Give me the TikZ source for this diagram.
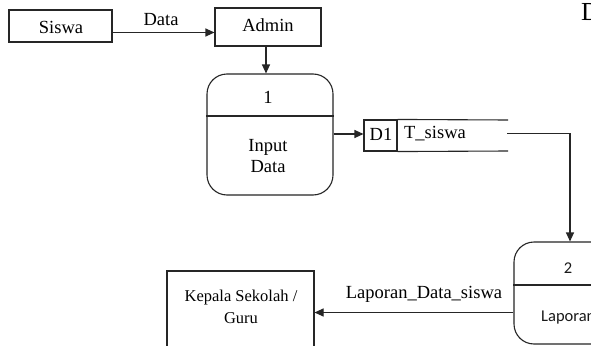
\documentclass[tikz,border=0pt]{standalone}
\usepackage{fontspec}
\setmainfont{Liberation Serif}
\newfontfamily\sansproc{Carlito}
\usetikzlibrary{arrows.meta}
\tikzset{
  ln/.style={draw=black!85, line width=1.1pt},
  arr/.style={ln, -{Triangle[length=9pt,width=8pt]}},
  ent/.style={ln, rectangle, inner sep=0pt, anchor=center},
  proc/.style={ln, rectangle, rounded corners=20pt, inner sep=0pt},
  txt/.style={inner sep=0pt, font=\fontsize{18.5}{22}\selectfont, text=black},
  smalltxt/.style={inner sep=0pt, font=\fontsize{16.5}{21}\selectfont, text=black, align=center},
  sanstxt/.style={inner sep=0pt, font=\sansproc\fontsize{16.5}{20}\selectfont, text=black!90}
}
\begin{document}
\begin{tikzpicture}[x=1pt,y=-1pt]
\useasboundingbox (0,0) rectangle (591,345);
\clip (0,0) rectangle (591,345);
\fill[white] (0,0) rectangle (591,345);

% top-right partial text
\node[inner sep=0pt, anchor=west, font=\fontsize{26}{30}\selectfont] (dtop) at (581,12) {D};

% entities
\node[ent, minimum width=103pt, minimum height=32pt] (siswa) at (60.5,26) {};
\node[txt] (siswatxt) at (61,27) {Siswa};
\node[ent, minimum width=106pt, minimum height=38pt] (admin) at (268,27) {};
\node[txt] (admintxt) at (268,25) {Admin};

\draw[arr] (siswa.east |- 0,32.5) -- (admin.west |- 0,32.5);
\node[txt] (datalbl) at (161,20) {Data};

% process 1
\node[proc, minimum width=126pt, minimum height=121pt] (p1) at (270,134.5) {};
\draw[ln] (p1.west |- 0,116) -- (p1.east |- 0,116);
\node[txt] (p1num) at (268,97) {1};
\node[txt, align=center] (p1txt) at (268,156) {Input\\[-1pt]Data};

\draw[arr] (admin.south -| 266,0) -- (p1.north -| 266,0);

% data store
\node[ln, rectangle, inner sep=0pt, minimum width=33pt, minimum height=31pt] (d1) at (380.5,135.5) {};
\node[txt] (d1txt) at (381,134) {D1};
\draw[ln] (d1.north east) -- (508,120);
\draw[ln] (d1.south east) -- (508,151);
\node[txt] (tsiswa) at (435,134) {T\_siswa};

\draw[arr] (p1.east |- 0,134) -- (d1.west |- 0,134);

% process 2
\node[proc, minimum width=130pt, minimum height=102pt] (p2) at (579,293) {};
\draw[ln] (p2.west |- 0,285) -- (p2.east |- 0,285);
\node[sanstxt] (p2num) at (568,268) {2};
\node[sanstxt, anchor=west] (p2txt) at (541,318) {Laporan};

\coordinate (dsout) at (507,133.3);
\draw[arr] (dsout) -- (570,133.3) -- (p2.north -| 570,0);

% kepala sekolah
\node[ln, rectangle, inner sep=0pt, minimum width=147pt, minimum height=100pt] (kepsek) at (240.5,321) {};
\node[smalltxt] (kepsektxt) at (241,307) {Kepala Sekolah /\\[1pt]Guru};

\draw[arr] (p2.west |- 0,312.5) -- (kepsek.east |- 0,312.5);
\node[txt] (laplbl) at (424,294) {Laporan\_Data\_siswa};
\end{tikzpicture}
\end{document}
